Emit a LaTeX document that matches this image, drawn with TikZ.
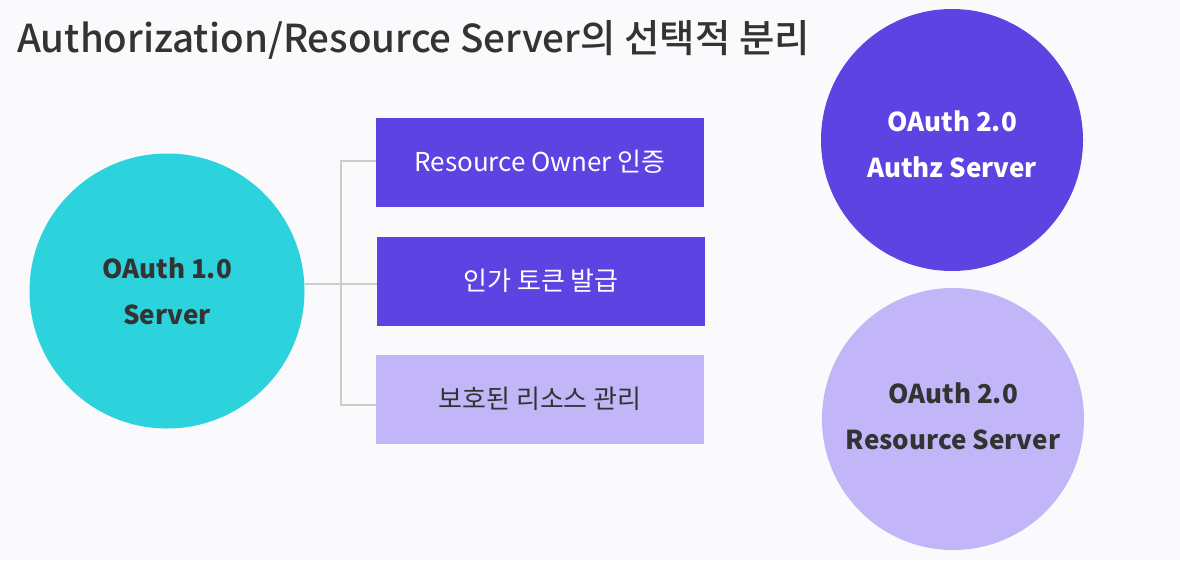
\documentclass[tikz,border=0pt]{standalone}
\usepackage{fontspec}
\setmainfont{Noto Sans CJK KR}
\newfontfamily\krmed{Noto Sans CJK KR Medium}
\definecolor{bgc}{HTML}{FAFAFD}
\definecolor{cyanc}{HTML}{2CD2DC}
\definecolor{purp}{HTML}{5C43E2}
\definecolor{lpurp}{HTML}{C2B6F8}
\definecolor{txt}{HTML}{333333}
\definecolor{linec}{HTML}{CCCCCC}
\tikzset{
  circ/.style={circle, minimum size=#1, inner sep=0pt},
  ctext/.style={align=center, inner sep=0pt, font=\fontsize{26}{46}\selectfont\bfseries},
  boxn/.style={minimum width=328pt, minimum height=89pt, inner sep=0pt, font=\fontsize{26}{30}\selectfont},
  conn/.style={draw=linec, line width=1.2pt}
}
\begin{document}
\begin{tikzpicture}[x=1pt,y=-1pt]
\fill[bgc] (0,0) rectangle (1180,560);
\useasboundingbox (0,0) rectangle (1180,560);
\node[anchor=west, text=txt, font=\krmed\fontsize{38.5}{48}\selectfont, inner sep=0pt] (title) at (17,40) {Authorization/Resource Server의 선택적 분리};
\node[circ=275pt, fill=cyanc] (o1) at (167,291) {};
\node[ctext, text=txt] (o1t) at (167,291) {OAuth 1.0\\Server};
\node[boxn, fill=purp, text=white] (b1) at (540,162) {Resource Owner 인증};
\node[boxn, fill=purp, text=white] (b2) at (541,281) {인가 토큰 발급};
\node[boxn, fill=lpurp, text=txt] (b3) at (540,399) {보호된 리소스 관리};
\coordinate (jt) at (341,161);
\coordinate (jm) at (341,284);
\coordinate (jb) at (341,405);
\draw[conn] (o1.east |- jm) -- (jm);
\draw[conn] (b1.west |- jt) -- (jt) -- (jb) -- (b3.west |- jb);
\draw[conn] (jm) -- (b2.west |- jm);
\node[circ=262pt, fill=purp] (a2) at (952,140) {};
\node[ctext, text=white] (a2t) at (952,144) {OAuth 2.0\\Authz Server};
\node[circ=262pt, fill=lpurp] (r2) at (953,419) {};
\node[ctext, text=txt] (r2t) at (953,416) {OAuth 2.0\\Resource Server};
\end{tikzpicture}
\end{document}
